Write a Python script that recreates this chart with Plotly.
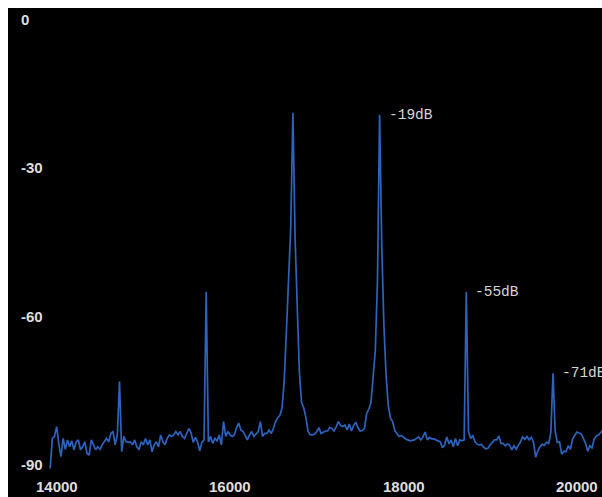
import plotly.graph_objects as go

# Frequency grid (Hz), 25 Hz spacing starting at 14200 Hz
freq_start = 14200
freq_step = 25

level_db = [
    # 14200 - 14675
    -90.8, -84.7, -84.3, -82.3, -85.8, -88.4, -84.7, -86.9, -85.0, -86.4,
    -85.2, -87.0, -85.4, -85.0, -87.0, -86.4, -85.4, -87.7, -88.1, -85.0,
    # 14700 - 14975
    -86.0, -87.0, -86.4, -86.9, -86.0, -85.4, -84.7, -85.4, -83.7, -83.3,
    -86.0, -84.0,
    # 15000 - 15475
    -73.2, -87.4, -84.3, -85.4, -85.5, -85.4, -86.0, -85.0, -86.4, -87.0,
    -85.4, -86.0, -84.7, -86.0, -85.0, -87.4, -86.0, -85.4, -86.4, -84.0,
    # 15500 - 15975
    -85.4, -86.0, -84.7, -84.0, -84.3, -84.0, -83.3, -84.0, -83.3, -84.3,
    -84.7, -83.7, -82.7, -83.5, -85.5, -84.5, -85.4, -87.2, -85.5, -85.0,
    # 16000 - 16475
    -55.0, -85.4, -84.3, -85.7, -84.7, -85.2, -84.0, -86.0, -81.3, -84.3,
    -83.3, -84.0, -84.3, -84.0, -82.5, -81.6, -83.0, -83.3, -84.3, -85.0,
    # 16500 - 16975
    -84.0, -83.3, -84.3, -83.7, -83.3, -81.3, -84.3, -83.7, -83.7, -83.0,
    -83.7, -82.7, -81.3, -80.5, -80.0, -78.5, -73.0, -63.0, -54.0, -42.0,
    # 17000 - 17475
    -18.8, -44.0, -58.0, -71.5, -77.5, -78.5, -80.5, -83.3, -84.0, -84.0,
    -83.9, -83.3, -82.5, -83.7, -83.5, -83.2, -83.2, -82.5, -82.7, -83.2,
    # 17500 - 17975
    -82.3, -81.3, -82.1, -82.3, -82.0, -83.0, -81.8, -83.2, -82.1, -81.4,
    -82.5, -83.2, -83.1, -82.7, -79.7, -78.8, -77.5, -73.0, -67.0, -53.0,
    # 18000 - 18475
    -19.2, -46.0, -62.0, -72.0, -78.0, -80.6, -81.3, -83.1, -83.8, -84.3,
    -84.1, -84.5, -84.8, -85.0, -85.2, -85.1, -85.0, -84.7, -84.4, -85.0,
    # 18500 - 18975
    -84.4, -83.4, -85.0, -84.5, -84.8, -84.8, -85.0, -85.2, -85.4, -86.6,
    -86.0, -84.4, -85.8, -85.0, -86.4, -84.7, -86.2, -85.0, -85.2, -85.0,
    # 19000 - 19475
    -55.0, -83.3, -84.7, -84.2, -85.4, -85.9, -86.0, -85.9, -86.5, -86.8,
    -86.7, -86.0, -85.5, -85.0, -85.0, -84.2, -85.7, -85.7, -86.2, -85.8,
    # 19500 - 19975
    -86.1, -87.0, -86.2, -86.9, -86.1, -85.4, -84.4, -84.9, -84.3, -85.0,
    -84.5, -85.5, -88.5, -87.2, -86.4, -85.9, -86.1, -85.5, -85.7, -83.5,
    # 20000 - 20575
    -71.5, -83.3, -85.5, -85.4, -87.9, -87.3, -87.4, -86.2, -86.9, -84.9,
    -84.1, -83.4, -83.6, -83.8, -84.7, -85.7, -87.3, -86.2, -86.6, -84.8,
    -84.2, -84.0, -83.5, -83.0,
]

freq_hz = [freq_start + i * freq_step for i in range(len(level_db))]

x_tick_vals = [14000, 16000, 18000, 20000]
x_tick_text = ["14000", "16000", "18000", "20000"]
y_tick_vals = [0, -30, -60, -90]
y_tick_text = ["0", "-30", "-60", "-90"]

peak_freqs = [18000, 19000, 20000]
peak_levels = [-19.2, -55.0, -71.5]
peak_labels = ["-19dB", "-55dB", "-71dB"]

tick_font = dict(family="Liberation Sans, Arial, sans-serif", size=15,
                 color="#dedede", weight="bold")
label_font = dict(family="Liberation Mono, Courier New, monospace", size=14.5,
                  color="#d6d6d6")

fig = go.Figure()
fig.add_trace(go.Scatter(
    x=freq_hz, y=level_db, mode="lines",
    line=dict(color="#2e63bd", width=1.7),
    hoverinfo="x+y", showlegend=False,
))

for f, lv, txt in zip(peak_freqs, peak_levels, peak_labels):
    fig.add_annotation(
        x=f, y=lv, xref="x", yref="y", text=txt, showarrow=False,
        xanchor="left", yanchor="middle", xshift=7, font=label_font,
    )

# x-axis tick labels drawn inside the plot, left-aligned at their tick
for v, t in zip(x_tick_vals, x_tick_text):
    fig.add_annotation(
        x=v, y=0, xref="x", yref="paper", text=t, showarrow=False,
        xanchor="left", yanchor="bottom", xshift=1, yshift=0, font=tick_font,
    )

fig.update_layout(
    width=602, height=497,
    margin=dict(l=8, r=0, t=8, b=0),
    paper_bgcolor="white", plot_bgcolor="black",
    xaxis=dict(
        range=[13714, 20565], tickvals=x_tick_vals, showticklabels=False,
        ticks="", showgrid=False, zeroline=False, showline=False,
    ),
    yaxis=dict(
        range=[-96.56, 2.43], tickvals=y_tick_vals, ticktext=y_tick_text,
        ticklabelposition="inside", ticks="", showgrid=False,
        zeroline=False, showline=False, tickfont=tick_font,
        ticklabelstandoff=10,
    ),
)

# the figure fills the window exactly, so drop the page's default body margin
fig.write_html(
    "out.html",
    config={"displayModeBar": False},
    post_script="document.body.style.margin='0px';",
)
